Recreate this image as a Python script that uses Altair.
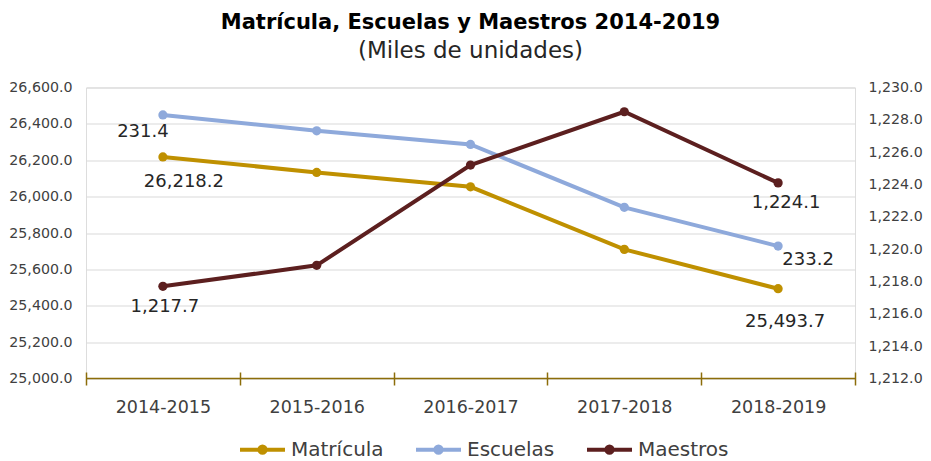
import altair as alt
import pandas as pd

# ---------------- data ----------------
categories = ["2014-2015", "2015-2016", "2016-2017", "2017-2018", "2018-2019"]
matricula = [26218.2, 26133.0, 26054.0, 25710.0, 25493.7]          # left axis
escuelas_pos = [26449.0, 26362.0, 26287.0, 25941.0, 25728.0]       # drawn on left axis
escuelas_labels = [231.4, 233.2]                                    # labels shown (first, last)
maestros = [1217.7, 1219.0, 1225.2, 1228.5, 1224.1]                 # right axis
series_names = ["Matrícula", "Escuelas", "Maestros"]
series_colors = ["#BF9000", "#8EA9DB", "#5C1F1F"]
left_ticks = [25000, 25200, 25400, 25600, 25800, 26000, 26200, 26400, 26600]
right_ticks = [1212, 1214, 1216, 1218, 1220, 1222, 1224, 1226, 1228, 1230]

FONT = "DejaVu Sans"
OLIVE = "#8C6D0A"
LABEL_GRAY = "#404040"

left_df = pd.DataFrame({
    "cat": categories * 2,
    "serie": ["Matrícula"] * 5 + ["Escuelas"] * 5,
    "v": matricula + escuelas_pos,
})
right_df = pd.DataFrame({"cat": categories, "serie": ["Maestros"] * 5, "v": maestros})

x_enc = alt.X(
    "cat:N", sort=categories, bandPosition=0.5,
    scale=alt.Scale(type="band", paddingInner=0, paddingOuter=0),
    axis=alt.Axis(title=None, domain=False, ticks=True, tickBand="extent", tickSize=13,
                  tickWidth=1.5, tickColor=OLIVE, offset=-6.5, labelFont=FONT,
                  labelFontSize=17.5, labelColor=LABEL_GRAY, labelPadding=13, labelAngle=0,
                  grid=False),
)

y_left = alt.Y(
    "v:Q", scale=alt.Scale(domain=[25000, 26600], nice=False, zero=False),
    axis=alt.Axis(title=None, values=left_ticks, format=",.1f", domain=False, ticks=False,
                  tickSize=0, labelPadding=14, labelFont=FONT, labelFontSize=14.2,
                  labelColor=LABEL_GRAY, grid=True, gridColor="#D9D9D9", gridWidth=1),
)
y_right = alt.Y(
    "v:Q", scale=alt.Scale(domain=[1212, 1230], nice=False, zero=False),
    axis=alt.Axis(title=None, orient="right", values=right_ticks, format=",.1f", domain=False,
                  ticks=False, tickSize=0, labelPadding=13, labelFont=FONT, labelFontSize=14.2,
                  labelColor=LABEL_GRAY, grid=False),
)

SYMBOL = ("M-1,0L1,0M-0.14,0A0.14,0.14,0,1,0,0.14,0A0.14,0.14,0,1,0,-0.14,0Z")
color_enc = alt.Color(
    "serie:N", scale=alt.Scale(domain=series_names, range=series_colors),
    legend=alt.Legend(title=None, orient="none", legendX=152, legendY=337.5,
                      direction="horizontal", symbolType=SYMBOL, symbolSize=2025,
                      symbolStrokeWidth=4, labelFont=FONT, labelFontSize=20,
                      labelColor=LABEL_GRAY, labelOffset=4, columnPadding=24, padding=0),
)

baseline = alt.Chart(pd.DataFrame({"v": [25000]})).mark_rule(
    color=OLIVE, strokeWidth=1.5).encode(y=y_left)

left_lines = alt.Chart(left_df).mark_line(
    strokeWidth=4, point=alt.OverlayMarkDef(filled=True, size=85, opacity=1)
).encode(x=x_enc, y=y_left, color=color_enc)

right_lines = alt.Chart(right_df).mark_line(
    strokeWidth=4, point=alt.OverlayMarkDef(filled=True, size=85, opacity=1)
).encode(x=x_enc, y=y_right, color=color_enc)

def fmt(v):
    return f"{v:,.1f}"

# label specs: (series, index, position value, text, dx, dy)
left_label_specs = [
    ("Escuelas", 0, escuelas_pos[0], fmt(escuelas_labels[0]), -20, 17),
    ("Matrícula", 0, matricula[0], fmt(matricula[0]), 21, 25),
    ("Escuelas", 4, escuelas_pos[4], fmt(escuelas_labels[1]), 30, 14),
    ("Matrícula", 4, matricula[4], fmt(matricula[4]), 7, 33),
]
right_label_specs = [
    ("Maestros", 0, maestros[0], fmt(maestros[0]), 2, 21),
    ("Maestros", 4, maestros[4], fmt(maestros[4]), 8, 20),
]

def label_layer(spec, y_enc):
    s, i, v, t, dx, dy = spec
    df = pd.DataFrame({"cat": [categories[i]], "v": [v], "label": [t]})
    return alt.Chart(df).mark_text(
        dx=dx, dy=dy, font=FONT, fontSize=18, color="#262626", align="center",
        baseline="middle").encode(x=x_enc, y=y_enc, text="label:N")

left = alt.layer(baseline, left_lines, *[label_layer(s, y_left) for s in left_label_specs])
right = alt.layer(right_lines, *[label_layer(s, y_right) for s in right_label_specs])

chart = alt.layer(left, right).resolve_scale(y="independent").properties(
    width=769, height=291,
    autosize=alt.AutoSizeParams(type="none"),
    padding={"left": 78, "top": 79.5, "right": 68, "bottom": 82},
    title=alt.TitleParams(
        text="Matrícula, Escuelas y Maestros 2014-2019",
        subtitle="(Miles de unidades)",
        font=FONT, fontSize=21, fontWeight="bold", color="#000000",
        subtitleFont=FONT, subtitleFontSize=23, subtitleColor="#262626",
        anchor="middle", offset=18, subtitlePadding=7,
    ),
).configure_view(stroke=None).configure(background="white")

chart.save("out.html", embed_options={"renderer": "svg", "actions": False})
